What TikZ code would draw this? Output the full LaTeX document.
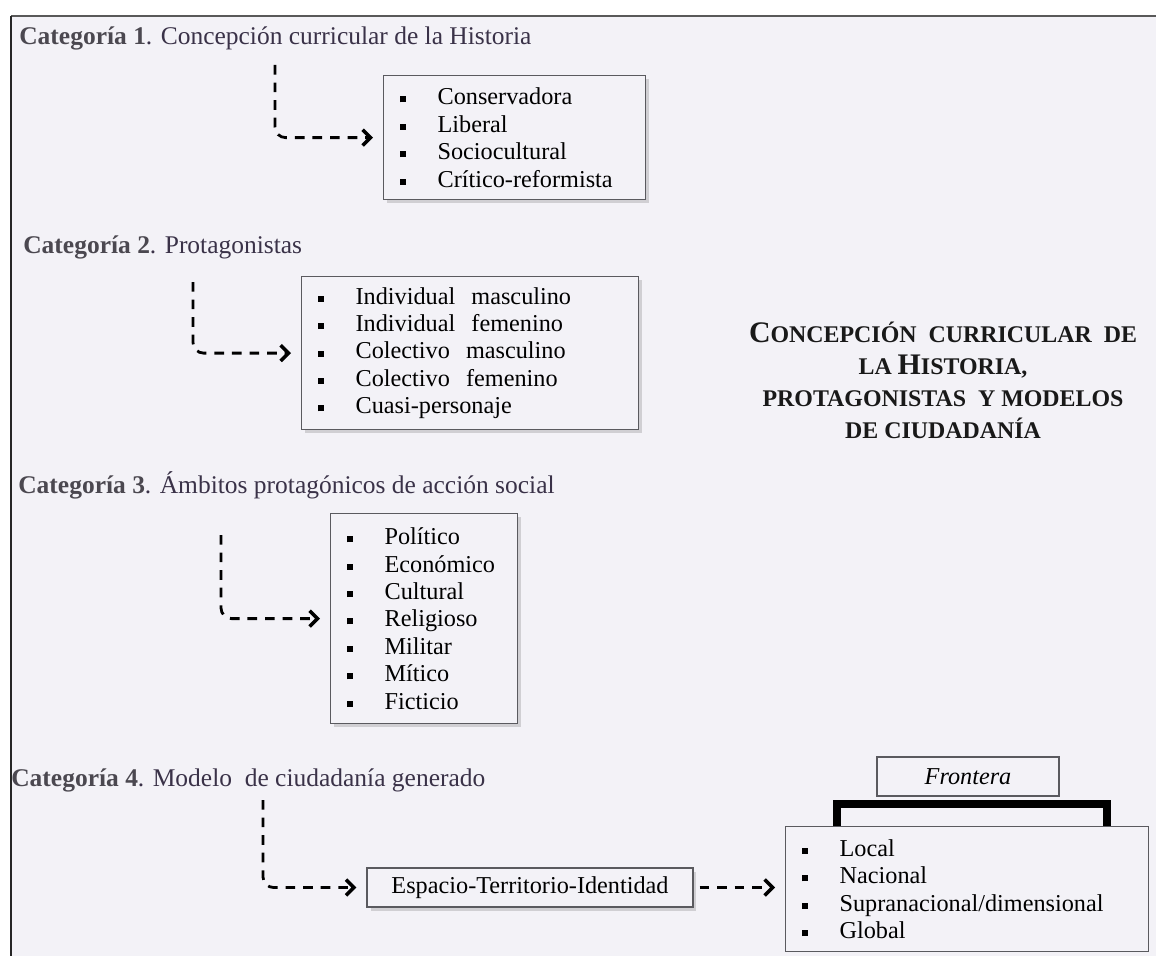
\documentclass[tikz,border=0pt]{standalone}
\usepackage{fontspec}
\setmainfont{Liberation Serif}
\usepackage{tikz}
\usetikzlibrary{arrows.meta, calc, shadows}

\definecolor{paper}{RGB}{243,242,247}
\definecolor{headtxt}{RGB}{58,50,72}
\definecolor{cattxt}{RGB}{75,72,80}
\definecolor{boxline}{RGB}{90,90,95}

\newcommand{\itm}[1]{\makebox[0.76cm][l]{\raisebox{0.1em}{\rule{0.12cm}{0.12cm}}}#1}
\newcommand{\capini}[1]{{\fontsize{17}{18.2}\selectfont #1}}

\begin{document}
\begin{tikzpicture}[x=0.02cm, y=-0.02cm,
    cat/.style={anchor=west, inner sep=0pt, font=\fontsize{14.5}{17}\selectfont, text=headtxt},
    list/.style={rectangle, draw=boxline, line width=0.7pt, fill=paper, anchor=north west, inner xsep=0.32cm, inner ysep=0pt, align=left, font=\fontsize{13.8}{15.6}\selectfont},
    plain/.style={rectangle, draw=boxline, line width=0.7pt, fill=paper, inner sep=0pt, font=\fontsize{13.8}{15.6}\selectfont},
    shade/.style={drop shadow={shadow xshift=2pt, shadow yshift=-2pt, opacity=0.3}},
    flow/.style={line width=1.6pt, dash pattern=on 5.5pt off 4.5pt, rounded corners=6pt, -{Straight Barb[length=4.5pt, width=9pt, line width=2pt]}, shorten >=0.2cm},
    title/.style={align=center, font=\fontsize{13.6}{18.2}\selectfont\bfseries, text=black!90}
]
\useasboundingbox (0,0) rectangle (1156,956);
\fill[paper] (11,16) rectangle (1156,956);
\draw[gray!70!black, line width=1.2pt] (1156,16) -- (11,16);
\draw[black!85, line width=1.2pt] (11,16) -- (11,956);

% categoria 1
\node[cat] (h1) at (19,38) {\textcolor{cattxt}{\bfseries Categoría 1}. Concepción curricular de la Historia};
\node[list, shade, text width=4.6cm, minimum height=2.48cm] (b1) at (383,75) {
    \itm{Conservadora}\\
    \itm{Liberal}\\
    \itm{Sociocultural}\\
    \itm{Crítico-reformista}
};

% categoria 2
\node[cat] (h2) at (23,247) {\textcolor{cattxt}{\bfseries Categoría 2}. Protagonistas};
\node[list, shade, text width=6.1cm, minimum height=3.06cm] (b2) at (301,276) {
    \itm{Individual\ \ masculino}\\
    \itm{Individual\ \ femenino}\\
    \itm{Colectivo\ \ masculino}\\
    \itm{Colectivo\ \ femenino}\\
    \itm{Cuasi-personaje}
};

\node[title] (ttl) at (943,380) {\capini{C}ONCEPCIÓN\ \ CURRICULAR\ \ DE\\LA \capini{H}ISTORIA,\\PROTAGONISTAS\ \ Y MODELOS\\DE CIUDADANÍA};

% categoria 3
\node[cat] (h3) at (18,485) {\textcolor{cattxt}{\bfseries Categoría 3}. Ámbitos protagónicos de acción social};
\node[list, shade, text width=3.1cm, minimum height=4.2cm] (b3) at (330,513) {
    \itm{Político}\\
    \itm{Económico}\\
    \itm{Cultural}\\
    \itm{Religioso}\\
    \itm{Militar}\\
    \itm{Mítico}\\
    \itm{Ficticio}
};

% categoria 4
\node[cat] (h4) at (11,780) {\textcolor{cattxt}{\bfseries Categoría 4}. Modelo\ \ de ciudadanía generado};
\node[plain, shade, minimum width=6.52cm, minimum height=0.78cm] (eti) at (530,887.5) {Espacio-Territorio-Identidad};
\node[plain, minimum width=3.64cm, minimum height=0.78cm] (fr) at (968,776.5) {\itshape Frontera};
\node[list, text width=6.62cm, minimum height=2.5cm] (lst) at (785,826) {
    \itm{Local}\\
    \itm{Nacional}\\
    \itm{Supranacional/dimensional}\\
    \itm{Global}
};
\draw[line width=4.5pt] ($(lst.north west)+(52,0)$) |- ($(fr.south)+(0,7)$) -| ($(lst.north east)+(-42,0)$);

\coordinate (s1) at (275,65);
\coordinate (s2) at (193,282);
\coordinate (s3) at (221,535);
\coordinate (s4) at (263,800);
\draw[flow] (s1) |- (b1.west);
\draw[flow] (s2) |- (b2.west);
\draw[flow] (s3) |- (b3.west);
\draw[flow] (s4) |- (eti.west);
\draw[flow, shorten <=0.12cm] (eti) -- (eti -| lst.west);
\end{tikzpicture}
\end{document}
